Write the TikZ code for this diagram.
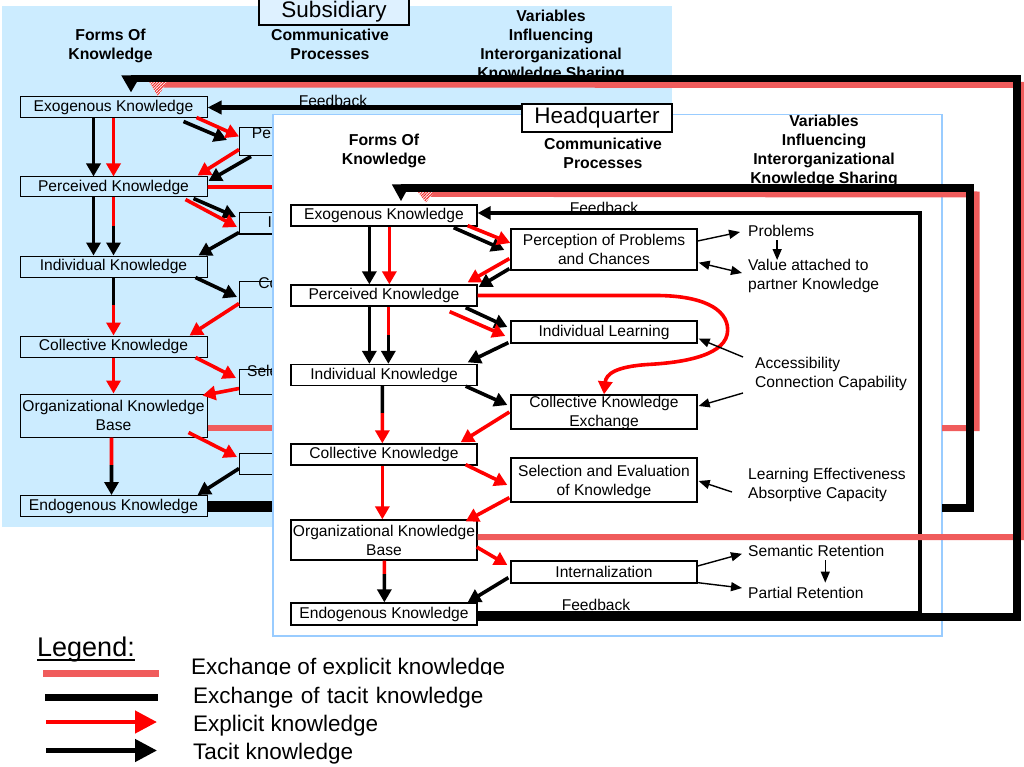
\documentclass[tikz,border=0pt]{standalone}
\usepackage{fontspec}
\setmainfont{Liberation Sans}
\usetikzlibrary{arrows.meta,patterns.meta,calc}

\definecolor{subbg}{RGB}{204,236,255}
\definecolor{tagfill}{RGB}{222,241,255}
\definecolor{hqedge}{RGB}{153,204,255}
\definecolor{kred}{RGB}{255,0,0}
\definecolor{hatchpink}{RGB}{240,92,92}
\definecolor{hatchred}{RGB}{240,40,40}

\tikzset{
  txt/.style={font=\fontsize{15.6}{19}\selectfont, inner sep=0pt},
  boxtext/.style={txt, align=center},
  kbox/.style={txt, draw=black, line width=1.3pt, fill=white, minimum width=186pt},
  sbox/.style={kbox, fill=subbg, line width=1pt, minimum width=187pt},
  hdr/.style={font=\bfseries\fontsize{15.8}{18.8}\selectfont, align=center, inner sep=0pt},
  note/.style={txt, align=left, anchor=west},
  tag/.style={draw=black, line width=1.2pt, font=\fontsize{22.5}{26}\selectfont, inner sep=0pt},
  legendtext/.style={font=\fontsize{22.5}{26}\selectfont, inner sep=0pt, anchor=base west},
  tacit/.style={draw=black, line width=3.6pt, -{Triangle[length=13pt,width=14pt]}},
  explicit/.style={tacit, draw=kred},
  redseg/.style={draw=kred, line width=3.6pt},
  blackseg/.style={draw=black, line width=3.6pt},
  pointer/.style={draw=black, line width=1.4pt, -{Triangle[length=11pt,width=9pt]}},
  twopointer/.style={draw=black, line width=1.4pt, {Triangle[length=11pt,width=9pt]}-{Triangle[length=11pt,width=9pt]}},
  feedback/.style={draw=black, line width=4.4pt},
  tacitx/.style={draw=black, line width=7.5pt},
  hatched/.style={line width=6pt, draw=hatchpink},
  hatchhead/.style={preaction={fill=white}, pattern={Lines[angle=45,distance=2pt,line width=1pt]}, pattern color=hatchred},
}

\begin{document}
\begin{tikzpicture}[x=1pt,y=-1pt]
\useasboundingbox (0,0) rectangle (1024,767);

% ================= Subsidiary =================
\fill[subbg] (2,6) rectangle (672,527);
\node[tag, fill=tagfill, minimum width=150pt, minimum height=26pt] (stag) at (334,12) {Subsidiary};

\node[hdr] (sforms) at (110.5,46.3) {Forms Of\\Knowledge};
\node[hdr] (scomm) at (330,44.5) {Communicative\\Processes};
\node[hdr] (svars) at (551,46.1) {Variables\\Influencing\\Interorganizational\\Knowledge Sharing};

% forms of knowledge
\node[sbox, minimum height=21pt] (sexo) at (113.5,107.5) {Exogenous Knowledge};
\node[sbox, minimum height=20pt] (sperc) at (113.5,187) {Perceived Knowledge};
\node[sbox, minimum height=21pt] (sind) at (113.5,266.5) {Individual Knowledge};
\node[sbox, minimum height=21pt] (scol) at (113.5,346.5) {Collective Knowledge};
\node[sbox, minimum height=43pt] (sorg) at (113.5,415.5) {};
\node[boxtext] (sorgtxt) at (sorg.center) {Organizational Knowledge\\Base};
\node[sbox, minimum height=21pt] (sendo) at (113.5,506) {Endogenous Knowledge};

% communicative processes
\node[sbox, minimum height=28pt] (spp) at (333,142) {};
\node[boxtext] (spptxt) at (spp.center) {Perception of Problems\\and Chances};
\node[sbox, minimum height=21pt] (sil) at (333,223.5) {Individual Learning};
\node[sbox, minimum height=26pt] (scke) at (333,294) {};
\node[boxtext] (scketxt) at (scke.center) {Collective Knowledge\\Exchange};
\node[sbox, minimum height=25pt] (ssel) at (333,381.5) {};
\node[boxtext] (sseltxt) at (ssel.center) {Selection and Evaluation\\of Knowledge};
\node[sbox, minimum height=21pt] (sint) at (333,463.5) {Internalization};

% vertical flows
\draw[tacit] ($(sexo.south west)+(74,0)$) -- ($(sperc.north west)+(74,0)$);
\draw[explicit] ($(sexo.south west)+(94,0)$) -- ($(sperc.north west)+(94,0)$);
\draw[tacit] ($(sperc.south west)+(74,0)$) -- ($(sind.north west)+(74,0)$);
\coordinate (sm1) at ($(sperc.south west)!0.5!(sind.north west)+(94,0)$);
\draw[redseg] ($(sperc.south west)+(94,0)$) -- (sm1);
\draw[tacit] (sm1) -- ($(sind.north west)+(94,0)$);
\coordinate (sm2) at ($(sind.south west)!0.47!(scol.north west)+(94,0)$);
\draw[blackseg] ($(sind.south west)+(94,0)$) -- (sm2);
\draw[explicit] (sm2) -- ($(scol.north west)+(94,0)$);
\draw[explicit] ($(scol.south west)+(94,0)$) -- ($(sorg.north west)+(94,0)$);
\coordinate (sm3) at ($(sorg.south west)!0.48!(sendo.north west)+(92,0)$);
\draw[redseg] ($(sorg.south west)+(92,0)$) -- (sm3);
\draw[tacit] (sm3) -- ($(sendo.north west)+(92,0)$);

% diagonal flows
\draw[tacit] ([shift={(-24,3)}]sexo.south east) -- ([shift={(-12,-2)}]spp.west);
\draw[explicit] ([shift={(-11,-1)}]sexo.south east) -- ([shift={(0,9)}]spp.north west);
\draw[explicit] ([shift={(0,-7)}]spp.south west) -- ([shift={(-10,-1)}]sperc.north east);
\draw[tacit] ([shift={(12,0)}]spp.south west) -- ([shift={(1,-6)}]sperc.east);
\draw[tacit] ([shift={(-14,1)}]sperc.south east) -- ([shift={(-3,-6.5)}]sil.west);
\draw[explicit] ([shift={(-22,2)}]sperc.south east) -- ([shift={(-2,3.5)}]sil.west);
\draw[tacit] ([shift={(0,-2)}]sil.south west) -- ([shift={(-9,0)}]sind.north east);
\draw[tacit] ([shift={(-12,0)}]sind.south east) -- ([shift={(-2,3)}]scke.west);
\draw[explicit] ([shift={(0,-4)}]scke.south west) -- ([shift={(-18,0)}]scol.north east);
\draw[explicit] ([shift={(-12,0)}]scol.south east) -- ([shift={(-3,-3.5)}]ssel.west);
\draw[explicit] ([shift={(0,-6)}]ssel.south west) -- ([shift={(-5,2)}]sorg.north east);
\draw[explicit] ([shift={(-19,-5)}]sorg.south east) -- ([shift={(-2,-6.5)}]sint.west);
\draw[tacit] ([shift={(0,-6)}]sint.south west) -- ([shift={(-10,0)}]sendo.north east);

% perceived knowledge straight to knowledge exchange
\draw[explicit] (sperc.east) -- ([shift={(178,0)}]sperc.east)
  .. controls +(45,0) and +(0,-22) .. ([shift={(30,-2)}]sil.east)
  .. controls +(0,25) and +(35,-2) .. ([shift={(46,-30)}]scke.north)
  .. controls +(-35,2) and +(2,-20) .. (scke.north);

% feedback loop of the subsidiary
\node[txt] (sfbtxt) at (333,101) {Feedback};
\coordinate (sfb) at (649,107.5);
\draw[feedback, -{Triangle[length=14pt,width=13pt]}] ([shift={(0,-3)}]sendo.east) -| (sfb) -- (sexo.east);

% exchange towards the headquarter (lower run)
\coordinate (ilb) at (942,508);
\coordinate (ihb) at (942,428);
\draw[hatched] ([shift={(0,12.5)}]sorg.east) -- (ihb);
\draw[tacitx] ([shift={(0,2)}]sendo.east) -- (ilb);

% ================= Headquarter =================
\draw[hqedge, line width=1.5pt, fill=white] (273,114.5) rectangle (942,636);
\node[tag, fill=white, minimum width=150pt, minimum height=28pt] (htag) at (597,118) {Headquarter};

\node[hdr] (hforms) at (384,151.3) {Forms Of\\Knowledge};
\node[hdr] (hcomm) at (603,153.4) {Communicative\\Processes};
\node[hdr] (hvars) at (824,151.1) {Variables\\Influencing\\Interorganizational\\Knowledge Sharing};

\node[kbox, minimum height=21pt] (hexo) at (384,215.5) {Exogenous Knowledge};
\node[kbox, minimum height=21pt] (hperc) at (384,295.5) {Perceived Knowledge};
\node[kbox, minimum height=21pt] (hind) at (384,375) {Individual Knowledge};
\node[kbox, minimum height=21pt] (hcol) at (384,454.5) {Collective Knowledge};
\node[kbox, minimum height=40pt] (horg) at (384,540) {};
\node[boxtext] (horgtxt) at (horg.center) {Organizational Knowledge\\Base};
\node[kbox, minimum height=22pt] (hendo) at (384,614) {Endogenous Knowledge};

\node[kbox, minimum height=41pt] (hpp) at (604,249.5) {};
\node[boxtext] (hpptxt) at (hpp.center) {Perception of Problems\\and Chances};
\node[kbox, minimum height=22pt] (hil) at (604,332) {Individual Learning};
\node[kbox, minimum height=34pt] (hcke) at (604,412) {};
\node[boxtext] (hcketxt) at ([shift={(0,1)}]hcke.center) {Collective Knowledge\\Exchange};
\node[kbox, minimum height=44pt] (hsel) at (604,480) {};
\node[boxtext] (hseltxt) at ([shift={(0,2)}]hsel.center) {Selection and Evaluation\\of Knowledge};
\node[kbox, minimum height=22pt] (hint) at (604,572) {Internalization};

% influencing variables
\node[note] (prob) at (748,231.3) {Problems};
\node[note] (val) at (748,275.5) {Value attached to\\partner Knowledge};
\node[note] (acc) at (755,373.5) {Accessibility\\Connection Capability};
\node[note] (lea) at (748,485) {Learning Effectiveness\\Absorptive Capacity};
\node[note] (sem) at (748,550.8) {Semantic Retention};
\node[note] (par) at (748,592.5) {Partial Retention};

% vertical flows
\draw[tacit] ($(hexo.south west)+(79,0)$) -- ($(hperc.north west)+(79,0)$);
\draw[explicit] ($(hexo.south west)+(99,0)$) -- ($(hperc.north west)+(99,0)$);
\draw[tacit] ($(hperc.south west)+(79,0)$) -- ($(hind.north west)+(79,0)$);
\coordinate (hm1) at ($(hperc.south west)!0.5!(hind.north west)+(98,0)$);
\draw[redseg] ($(hperc.south west)+(98,0)$) -- (hm1);
\draw[tacit] (hm1) -- ($(hind.north west)+(98,0)$);
\coordinate (hm2) at ($(hind.south west)!0.47!(hcol.north west)+(92,0)$);
\draw[blackseg] ($(hind.south west)+(92,0)$) -- (hm2);
\draw[explicit] (hm2) -- ($(hcol.north west)+(92,0)$);
\draw[explicit] ($(hcol.south west)+(92,0)$) -- ($(horg.north west)+(92,0)$);
\coordinate (hm3) at ($(horg.south west)!0.32!(hendo.north west)+(94,0)$);
\draw[redseg] ($(horg.south west)+(94,0)$) -- (hm3);
\draw[tacit] (hm3) -- ($(hendo.north west)+(94,0)$);

% diagonal flows
\draw[tacit] ([shift={(-24,1)}]hexo.south east) -- ([shift={(-6,0.5)}]hpp.west);
\draw[explicit] ([shift={(-10,-1)}]hexo.south east) -- ([shift={(0,-6.5)}]hpp.west);
\draw[explicit] ([shift={(-1,-12)}]hpp.south west) -- ([shift={(-10,-2)}]hperc.north east);
\draw[tacit] ([shift={(-1,-2)}]hpp.south west) -- ([shift={(1,-8.5)}]hperc.east);
\draw[tacit] ([shift={(-12,1)}]hperc.south east) -- ([shift={(-3,-5)}]hil.west);
\draw[explicit] ([shift={(-28,5)}]hperc.south east) -- ([shift={(-5,4)}]hil.west);
\draw[tacit] ([shift={(-2,-1)}]hil.south west) -- ([shift={(-10,-1.5)}]hind.north east);
\draw[tacit] ([shift={(-12,0)}]hind.south east) -- ([shift={(-3,-7)}]hcke.west);
\draw[explicit] ([shift={(-1,0)}]hcke.west) -- ([shift={(-17,-1)}]hcol.north east);
\draw[explicit] ([shift={(-12,-1)}]hcol.south east) -- ([shift={(-3,5)}]hsel.west);
\draw[explicit] ([shift={(-1,-5)}]hsel.south west) -- ([shift={(-12,2)}]horg.north east);
\draw[explicit] ([shift={(-1,7)}]horg.east) -- ([shift={(-3,-7)}]hint.west);
\draw[tacit] ([shift={(-2,-6)}]hint.south west) -- ([shift={(-10,0)}]hendo.north east);

% perceived knowledge straight to knowledge exchange
\draw[explicit] (hperc.east) -- ([shift={(178,0)}]hperc.east)
  .. controls +(45,0) and +(0,-22) .. ([shift={(30,-2)}]hil.east)
  .. controls +(0,25) and +(35,-2) .. ([shift={(46,-30)}]hcke.north)
  .. controls +(-35,2) and +(2,-20) .. (hcke.north);

% variables acting on the processes
\draw[pointer] ([shift={(0,-8.5)}]hpp.east) -- ([shift={(-8,0.7)}]prob.west);
\draw[pointer] ($(prob.south)+(-4,3)$) -- ($(prob.south |- val.north)+(-4,1.5)$);
\draw[twopointer] ([shift={(1,-8)}]hpp.south east) -- ([shift={(-6,-2.5)}]val.west);
\draw[pointer] ([shift={(-12,-16.5)}]acc.west) -- ([shift={(1,-5)}]hil.south east);
\draw[pointer] ([shift={(-12,19.5)}]acc.west) -- ([shift={(1,-6)}]hcke.east);
\draw[pointer] ([shift={(-16,7)}]lea.west) -- ([shift={(1,1)}]hsel.east);
\draw[pointer] ([shift={(0,-6)}]hint.east) -- ([shift={(-6,3)}]sem.west);
\draw[pointer] ([shift={(0,-1)}]hint.south east) -- ([shift={(-6,-4.5)}]par.west);
\draw[pointer] ($(sem.south)+(9,3.5)$) -- ($(sem.south |- par.north)+(9,-4)$);

% feedback loop of the headquarter
\node[txt] (hfbtop) at (604,208) {Feedback};
\node[txt] (hfbbot) at (596,605) {Feedback};
\coordinate (hfb) at (920,213);
\draw[feedback, -{Triangle[length=13pt,width=13pt]}] ([shift={(0,-1)}]hendo.east) -| (hfb) -- ([shift={(0,-2.5)}]hexo.east);

% exchange from the subsidiary (upper run)
\coordinate (ihc) at (976.5,194.5);
\draw[hatched] (ihb) -| (ihc) -- ([shift={(42,-10.5)}]hexo.north);
\fill[hatchhead] ([shift={(33,-13.5)}]hexo.north) -- ([shift={(51,-13.5)}]hexo.north) -- ([shift={(42,-2)}]hexo.north) -- cycle;
\coordinate (ilc) at (970,188);
\draw[tacitx, -{Triangle[length=17pt,width=17pt]}] (ilb) -| (ilc) -| ([shift={(17,-3)}]hexo.north);

% exchange from the headquarter to the subsidiary
\coordinate (ohat) at (1023,85);
\draw[hatched] ([shift={(0,-3)}]horg.east) -| (ohat) -- ([shift={(44.5,-12)}]sexo.north);
\fill[hatchhead] ([shift={(35.5,-15)}]sexo.north) -- ([shift={(53.5,-15)}]sexo.north) -- ([shift={(44.5,0)}]sexo.north) -- cycle;
\coordinate (oblk) at (1017,78.5);
\draw[tacitx, -{Triangle[length=17pt,width=18pt]}] ([shift={(0,3)}]hendo.east) -| (oblk) -| ([shift={(17.5,-4)}]sexo.north);

% ================= Legend =================
\node[anchor=base west, font=\fontsize{27}{30}\selectfont, inner sep=0pt] (legend) at (37,656)
  {\setbox0\hbox{Legend:}\rlap{\rule[-5pt]{\wd0}{2pt}}\box0};
\node[legendtext] (lt1) at (191,674) {Exchange of explicit knowledge};
\node[legendtext, fill=white, text width=325pt, text height=28pt, text depth=3pt] (lt2) at (193,703) {Exchange of tacit knowledge};
\node[legendtext] (lt3) at (193,731) {Explicit knowledge};
\node[legendtext] (lt4) at (193,759) {Tacit knowledge};

\coordinate (l1a) at (43,673.5);  \coordinate (l1b) at (159,673.5);
\coordinate (l2a) at (45,697.5);  \coordinate (l2b) at (158,697.5);
\coordinate (l3a) at (46,722);    \coordinate (l3b) at (157,722);
\coordinate (l4a) at (46,750.5);  \coordinate (l4b) at (157,750.5);
\draw[hatched, line width=7pt] (l1a) -- (l1b);
\draw[tacitx] (l2a) -- (l2b);
\draw[draw=kred, line width=4.5pt, -{Triangle[length=22pt,width=22pt]}] (l3a) -- (l3b);
\draw[draw=black, line width=4.5pt, -{Triangle[length=22pt,width=22pt]}] (l4a) -- (l4b);
\end{tikzpicture}
\end{document}
